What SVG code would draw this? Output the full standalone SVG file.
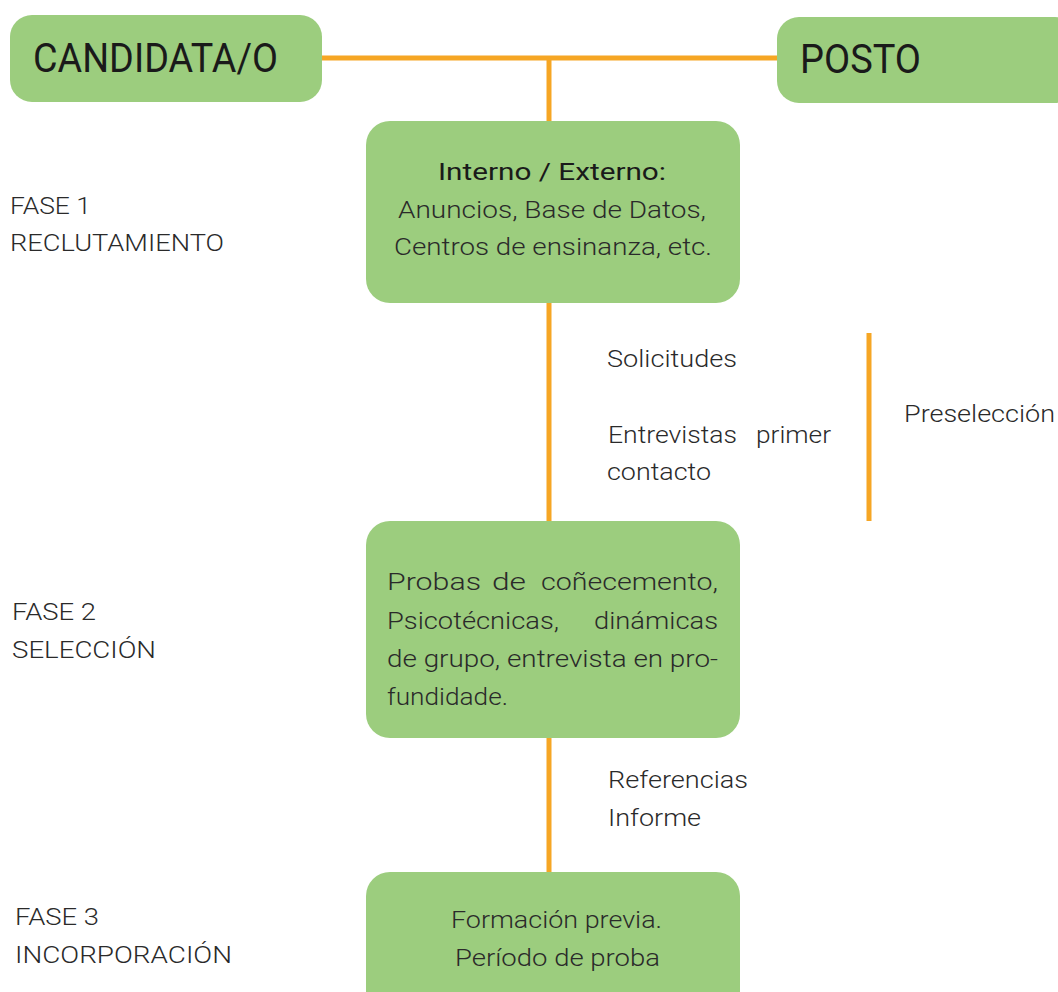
<svg xmlns="http://www.w3.org/2000/svg" width="1058" height="992" viewBox="0 0 1058 992">
<style>
.box{fill:#9ccd7e}
.ln{stroke:#f6a624;stroke-width:5;fill:none}
text{font-family:Roboto,"Liberation Sans",Arial,sans-serif;font-weight:300;fill:#2a2a2a;font-size:23px}
.big{font-size:40px;fill:#1a1a1a;font-weight:400}
.med{font-size:24px;fill:#1a1a1a;font-weight:400}
</style>
<rect width="1058" height="992" fill="#ffffff"/>
<g id="connectors">
<line class="ln" x1="320" y1="58" x2="780" y2="58"/>
<line class="ln" x1="549" y1="58" x2="549" y2="124"/>
<line class="ln" x1="549" y1="300" x2="549" y2="524"/>
<line class="ln" x1="549" y1="735" x2="549" y2="875"/>
<line class="ln" x1="869" y1="333" x2="869" y2="521"/>
</g>
<g id="candidata">
<rect class="box" x="10" y="15" width="312" height="87" rx="22"/>
<text class="big" x="33" y="72" textLength="245" lengthAdjust="spacingAndGlyphs">CANDIDATA/O</text>
</g>
<g id="posto">
<rect class="box" x="777" y="17" width="300" height="86" rx="22"/>
<text class="big" x="800" y="73" textLength="121" lengthAdjust="spacingAndGlyphs">POSTO</text>
</g>
<g id="fase1">
<rect class="box" x="366" y="121" width="374" height="182" rx="24"/>
<text class="med" x="438" y="180" textLength="228" lengthAdjust="spacingAndGlyphs">Interno / Externo:</text>
<text x="398" y="218" textLength="308" lengthAdjust="spacingAndGlyphs">Anuncios, Base de Datos,</text>
<text x="394" y="255" textLength="318" lengthAdjust="spacingAndGlyphs">Centros de ensinanza, etc.</text>
</g>
<g id="fase2">
<rect class="box" x="366" y="521" width="374" height="217" rx="24"/>
<text x="387" y="590" textLength="94" lengthAdjust="spacingAndGlyphs">Probas</text>
<text x="492" y="590" textLength="34" lengthAdjust="spacingAndGlyphs">de</text>
<text x="541" y="590" textLength="177" lengthAdjust="spacingAndGlyphs">coñecemento,</text>
<text x="387" y="629" textLength="172" lengthAdjust="spacingAndGlyphs">Psicotécnicas,</text>
<text x="594" y="629" textLength="124" lengthAdjust="spacingAndGlyphs">dinámicas</text>
<text x="387" y="667" textLength="331" lengthAdjust="spacingAndGlyphs">de grupo, entrevista en pro-</text>
<text x="387" y="705" textLength="121" lengthAdjust="spacingAndGlyphs">fundidade.</text>
</g>
<g id="fase3">
<rect class="box" x="366" y="872" width="374" height="150" rx="24"/>
<text x="451" y="928" textLength="211" lengthAdjust="spacingAndGlyphs">Formación previa.</text>
<text x="455" y="966" textLength="205" lengthAdjust="spacingAndGlyphs">Período de proba</text>
</g>
<g id="labels">
<text x="10" y="214" textLength="81" lengthAdjust="spacingAndGlyphs">FASE 1</text>
<text x="10" y="251" textLength="214" lengthAdjust="spacingAndGlyphs">RECLUTAMIENTO</text>
<text x="12" y="620" textLength="84" lengthAdjust="spacingAndGlyphs">FASE 2</text>
<text x="12" y="658" textLength="144" lengthAdjust="spacingAndGlyphs">SELECCIÓN</text>
<text x="15" y="925" textLength="84" lengthAdjust="spacingAndGlyphs">FASE 3</text>
<text x="15" y="963" textLength="217" lengthAdjust="spacingAndGlyphs">INCORPORACIÓN</text>
<text x="607" y="367" textLength="130" lengthAdjust="spacingAndGlyphs">Solicitudes</text>
<text x="608" y="443" textLength="129" lengthAdjust="spacingAndGlyphs">Entrevistas</text>
<text x="756" y="443" textLength="75" lengthAdjust="spacingAndGlyphs">primer</text>
<text x="607" y="480" textLength="104" lengthAdjust="spacingAndGlyphs">contacto</text>
<text x="904" y="422" textLength="151" lengthAdjust="spacingAndGlyphs">Preselección</text>
<text x="608" y="788" textLength="140" lengthAdjust="spacingAndGlyphs">Referencias</text>
<text x="608" y="826" textLength="93" lengthAdjust="spacingAndGlyphs">Informe</text>
</g>
</svg>
